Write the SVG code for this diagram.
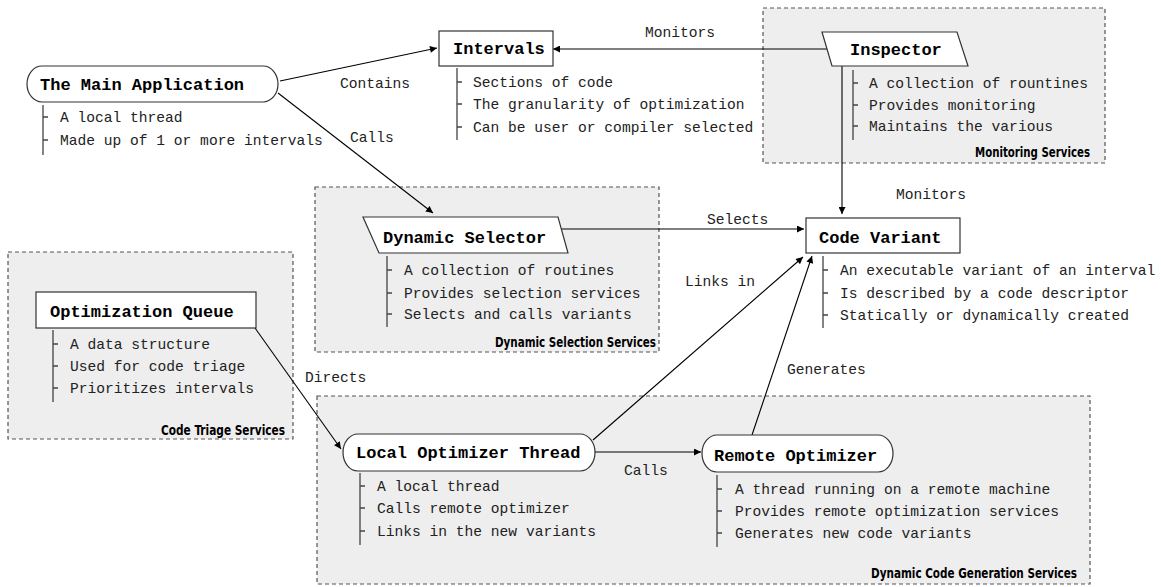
<svg xmlns="http://www.w3.org/2000/svg" width="1161" height="587" viewBox="0 0 1161 587">
<defs>
<style>
.grp{fill:#eeeeee;stroke:#555;stroke-width:1.2;stroke-dasharray:4,3}
.glabel{font-family:"Liberation Sans Narrow","DejaVu Sans Condensed","Liberation Sans",sans-serif;font-stretch:condensed;font-weight:bold;font-size:14px;fill:#000;text-anchor:end}
.shape{fill:#fff;stroke:#333;stroke-width:1.2}
.title{font-family:"Liberation Mono","DejaVu Sans Mono",monospace;font-weight:bold;font-size:17px;fill:#000}
.item{font-family:"Liberation Mono","DejaVu Sans Mono",monospace;font-size:14.6px;fill:#222}
.tree{fill:none;stroke:#444;stroke-width:1.3}
.conn{fill:none;stroke:#000;stroke-width:1.1}
.clabel{font-family:"Liberation Mono","DejaVu Sans Mono",monospace;font-size:14.6px;fill:#222}
</style>
<marker id="arr" viewBox="0 0 10 10" refX="10" refY="5" markerWidth="9" markerHeight="7" markerUnits="userSpaceOnUse" orient="auto">
<path d="M0,0 L10,5 L0,10 z" fill="#000"/>
</marker>
</defs>
<rect width="1161" height="587" fill="#fff"/>

<g id="groups">
<rect class="grp" x="763" y="8" width="342" height="155"/>
<text class="glabel" x="1090" y="157" textLength="115" lengthAdjust="spacingAndGlyphs">Monitoring Services</text>
<rect class="grp" x="315" y="187" width="344" height="165"/>
<text class="glabel" x="656" y="347" textLength="161" lengthAdjust="spacingAndGlyphs">Dynamic Selection Services</text>
<rect class="grp" x="8" y="252" width="285" height="187"/>
<text class="glabel" x="285" y="435" textLength="124" lengthAdjust="spacingAndGlyphs">Code Triage Services</text>
<rect class="grp" x="317" y="396" width="773" height="188"/>
<text class="glabel" x="1077" y="578" textLength="206" lengthAdjust="spacingAndGlyphs">Dynamic Code Generation Services</text>
</g>

<g id="connectors">
<line class="conn" x1="280" y1="81" x2="437" y2="48" marker-end="url(#arr)"/>
<text class="clabel" x="340" y="88">Contains</text>
<line class="conn" x1="278" y1="93" x2="433" y2="213" marker-end="url(#arr)"/>
<text class="clabel" x="350" y="142">Calls</text>
<line class="conn" x1="827" y1="49" x2="553" y2="49" marker-end="url(#arr)"/>
<text class="clabel" x="645" y="37">Monitors</text>
<line class="conn" x1="842" y1="66" x2="842" y2="214" marker-end="url(#arr)"/>
<text class="clabel" x="896" y="199">Monitors</text>
<line class="conn" x1="561" y1="229" x2="804" y2="229" marker-end="url(#arr)"/>
<text class="clabel" x="707" y="224">Selects</text>
<line class="conn" x1="593" y1="440" x2="803" y2="257" marker-end="url(#arr)"/>
<text class="clabel" x="685" y="286">Links in</text>
<line class="conn" x1="752" y1="435" x2="812" y2="256" marker-end="url(#arr)"/>
<text class="clabel" x="787" y="374">Generates</text>
<line class="conn" x1="255" y1="328" x2="341" y2="449" marker-end="url(#arr)"/>
<text class="clabel" x="305" y="382">Directs</text>
<line class="conn" x1="595" y1="452" x2="701" y2="452" marker-end="url(#arr)"/>
<text class="clabel" x="624" y="475">Calls</text>
</g>

<g id="main-app">
<rect class="shape" x="27" y="66" width="251" height="36" rx="15" ry="18"/>
<text class="title" x="40" y="90">The Main Application</text>
<path class="tree" d="M43,105 V155 M43,117 H48 M43,140 H48"/>
<text class="item" x="60" y="122">A local thread</text>
<text class="item" x="60" y="145">Made up of 1 or more intervals</text>
</g>

<g id="intervals">
<rect class="shape" x="439" y="31" width="114" height="35"/>
<text class="title" x="453" y="54">Intervals</text>
<path class="tree" d="M457,68 V140 M457,82 H462 M457,104 H462 M457,127 H462"/>
<text class="item" x="473" y="87">Sections of code</text>
<text class="item" x="473" y="109">The granularity of optimization</text>
<text class="item" x="473" y="132">Can be user or compiler selected</text>
</g>

<g id="inspector">
<polygon class="shape" points="822,32 957,32 968,66 832,66"/>
<text class="title" x="850" y="55">Inspector</text>
<path class="tree" d="M853,70 V140 M853,83 H858 M853,105 H858 M853,126 H858"/>
<text class="item" x="869" y="88">A collection of rountines</text>
<text class="item" x="869" y="110">Provides monitoring</text>
<text class="item" x="869" y="131">Maintains the various</text>
</g>

<g id="dynamic-selector">
<polygon class="shape" points="363,217 558,217 568,253 379,253"/>
<text class="title" x="383" y="243">Dynamic Selector</text>
<path class="tree" d="M387,256 V327 M387,270 H392 M387,293 H392 M387,314 H392"/>
<text class="item" x="404" y="275">A collection of routines</text>
<text class="item" x="404" y="298">Provides selection services</text>
<text class="item" x="404" y="319">Selects and calls variants</text>
</g>

<g id="code-variant">
<rect class="shape" x="806" y="218" width="154" height="35"/>
<text class="title" x="819" y="243">Code Variant</text>
<path class="tree" d="M823,256 V328 M823,270 H828 M823,293 H828 M823,315 H828"/>
<text class="item" x="840" y="275">An executable variant of an interval</text>
<text class="item" x="840" y="298">Is described by a code descriptor</text>
<text class="item" x="840" y="320">Statically or dynamically created</text>
</g>

<g id="optimization-queue">
<rect class="shape" x="36" y="292" width="220" height="36"/>
<text class="title" x="50" y="317">Optimization Queue</text>
<path class="tree" d="M53,330 V402 M53,344 H58 M53,366 H58 M53,388 H58"/>
<text class="item" x="70" y="349">A data structure</text>
<text class="item" x="70" y="371">Used for code triage</text>
<text class="item" x="70" y="393">Prioritizes intervals</text>
</g>

<g id="local-optimizer">
<rect class="shape" x="343" y="434" width="252" height="37" rx="15" ry="18.5"/>
<text class="title" x="356" y="458">Local Optimizer Thread</text>
<path class="tree" d="M360,473 V545 M360,486 H365 M360,508 H365 M360,531 H365"/>
<text class="item" x="377" y="491">A local thread</text>
<text class="item" x="377" y="513">Calls remote optimizer</text>
<text class="item" x="377" y="536">Links in the new variants</text>
</g>

<g id="remote-optimizer">
<rect class="shape" x="702" y="435" width="191" height="37" rx="15" ry="18.5"/>
<text class="title" x="714" y="461">Remote Optimizer</text>
<path class="tree" d="M717,475 V547 M717,489 H722 M717,511 H722 M717,533 H722"/>
<text class="item" x="735" y="494">A thread running on a remote machine</text>
<text class="item" x="735" y="516">Provides remote optimization services</text>
<text class="item" x="735" y="538">Generates new code variants</text>
</g>
</svg>
